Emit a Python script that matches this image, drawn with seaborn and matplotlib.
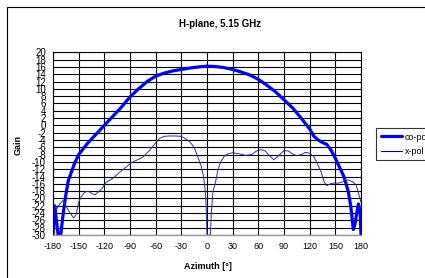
import numpy as np
import pandas as pd
import matplotlib
matplotlib.use("Agg")
import matplotlib.pyplot as plt
import seaborn as sns
from matplotlib.patches import Rectangle
from matplotlib.lines import Line2D

# ---- data ----
co_az = [-180, -178, -176, -174, -171, -168, -165, -162, -158, -155, -150, -140, -130, -120,
         -110, -100, -90, -80, -70, -60, -50, -40, -30, -20, -10, 0, 10, 20, 30, 40, 50, 60,
         70, 80, 90, 100, 110, 120, 125, 130, 135, 140, 145, 150, 155, 160, 165, 168, 171,
         173, 175, 177, 179, 180]
co_gain = [-30, -22, -26, -30, -30, -24, -19, -15, -12.5, -10.5, -8, -5, -2.5, 0,
           2.5, 5, 7.8, 10, 12, 13.5, 14.3, 14.9, 15.3, 15.7, 16, 16.2, 16.1, 15.8, 15.3, 14.6,
           13.8, 12.6, 11, 9.2, 7, 4.8, 2, -1, -3, -4, -4.7, -5.2, -6.8, -9, -11.5, -14, -18,
           -22, -28.5, -27, -24, -21.5, -24, -30]

x_az = [-180, -176, -172, -168, -165, -160, -156, -153, -150, -147, -143, -139, -135, -131,
        -127, -123, -118, -110, -102, -95, -90, -85, -79, -74, -67, -60, -55, -50, -44, -37,
        -30, -24, -20, -15, -11, -7, -4, -2, -1, 0, 1, 3, 4, 5, 7, 10, 13, 16, 20, 24, 30,
        38, 45, 52, 58, 63, 68, 73, 78, 84, 90, 95, 100, 105, 110, 115, 120, 125, 129, 133,
        137, 140, 144, 148, 154, 158, 162, 166, 170, 174, 176, 178, 180]
x_gain = [-21, -23, -21.5, -20.5, -22, -24, -25.3, -24.5, -21, -19.5, -18.3, -18, -18.6, -19,
          -18.2, -17.4, -15.6, -14.5, -12.8, -11.5, -10.5, -9.8, -9.2, -8.5, -6.8, -4.8, -3.5,
          -3, -2.9, -2.9, -3, -3.8, -4.5, -6, -8.5, -11, -14, -18, -22, -30, -30, -30, -30, -24,
          -18, -15.5, -12, -10, -8.5, -7.8, -7.5, -7.8, -8.2, -8, -7, -6.6, -7, -8.3, -9.4,
          -8.2, -6.9, -7, -7.8, -8.3, -8, -7.4, -7.6, -8.6, -10.5, -12.5, -15.5, -16.5, -16,
          -15.8, -15.8, -15.5, -14.9, -15, -15.4, -16.2, -17.5, -19.5, -21]

series_names = ["co-pol", "x-pol"]
x_ticks = list(range(-180, 181, 30))
y_ticks = list(range(-30, 21, 2))
title = "H-plane, 5.15 GHz"
xlabel = "Azimuth [°]"
ylabel = "Gain"

df = pd.concat([
    pd.DataFrame({"Azimuth": co_az, "Gain": co_gain, "series": series_names[0]}),
    pd.DataFrame({"Azimuth": x_az, "Gain": x_gain, "series": series_names[1]}),
], ignore_index=True)

sns.set_theme(style="white")
plt.rcParams["font.family"] = ["Liberation Sans", "DejaVu Sans"]
plt.rcParams["text.color"] = "black"
plt.rcParams["axes.labelcolor"] = "black"
plt.rcParams["xtick.color"] = "black"
plt.rcParams["ytick.color"] = "black"

fig = plt.figure(figsize=(4.25, 2.78), dpi=100)
fig.patch.set_facecolor("white")
ax = fig.add_axes([53 / 425, 1 - 235 / 278, (361 - 53) / 425, (235 - 52.3) / 278])

sns.lineplot(data=df, x="Azimuth", y="Gain", hue="series", size="series",
             hue_order=series_names, size_order=series_names,
             palette={"co-pol": "#0000FF", "x-pol": "#3030A0"},
             sizes={"co-pol": 2.3, "x-pol": 0.7},
             sort=False, estimator=None, ax=ax, legend=False)
for ln in ax.lines:
    ln.set_solid_joinstyle("round")

ax.set_xlim(-180, 180)
ax.set_ylim(-30, 20)
ax.set_xticks(x_ticks)
ax.set_yticks(y_ticks)
ax.set_xticklabels([str(t) for t in x_ticks], fontsize=6.5)
ax.set_yticklabels([str(t) for t in y_ticks], fontsize=7)
ax.grid(True, color="black", linewidth=0.8)
ax.set_axisbelow(True)
for s in ["left", "top", "right"]:
    ax.spines[s].set_color("black")
    ax.spines[s].set_linewidth(0.8)
ax.spines["bottom"].set_color("#999999")
ax.spines["bottom"].set_linewidth(1.0)
ax.tick_params(axis="both", direction="out", length=3, width=0.8, color="black", pad=2)

ax.set_xlabel(xlabel, fontsize=6.5, fontweight="bold")
ax.set_ylabel(ylabel, fontsize=6.5, fontweight="bold")
ax.xaxis.set_label_coords((208 - 53) / (361 - 53), -(262 - 235) / (235 - 52.3))
ax.yaxis.set_label_coords(-(53 - 23) / (361 - 53), (235 - 145) / (235 - 52.3))

fig.text(220 / 425, 1 - 24 / 278, title, ha="center", va="center",
         fontsize=7, fontweight="bold")

handles = [Line2D([], [], color="#0000FF", lw=2.3), Line2D([], [], color="#000080", lw=0.8)]
leg = fig.legend(handles, series_names, loc="upper left",
                 bbox_to_anchor=(376 / 425, 1 - 128 / 278), fontsize=6.5,
                 frameon=True, fancybox=False, handlelength=2.4, handletextpad=0.3,
                 borderpad=0.5, labelspacing=0.6, borderaxespad=0)
leg.get_frame().set_edgecolor("black")
leg.get_frame().set_linewidth(0.8)

# outer chart frame
fig.add_artist(Rectangle((7 / 425, -0.1), 1.2, 1 - 7 / 278 + 0.1,
                         transform=fig.transFigure, fill=False,
                         edgecolor="black", linewidth=0.8))

fig.savefig("out.png", dpi=100, facecolor="white")
